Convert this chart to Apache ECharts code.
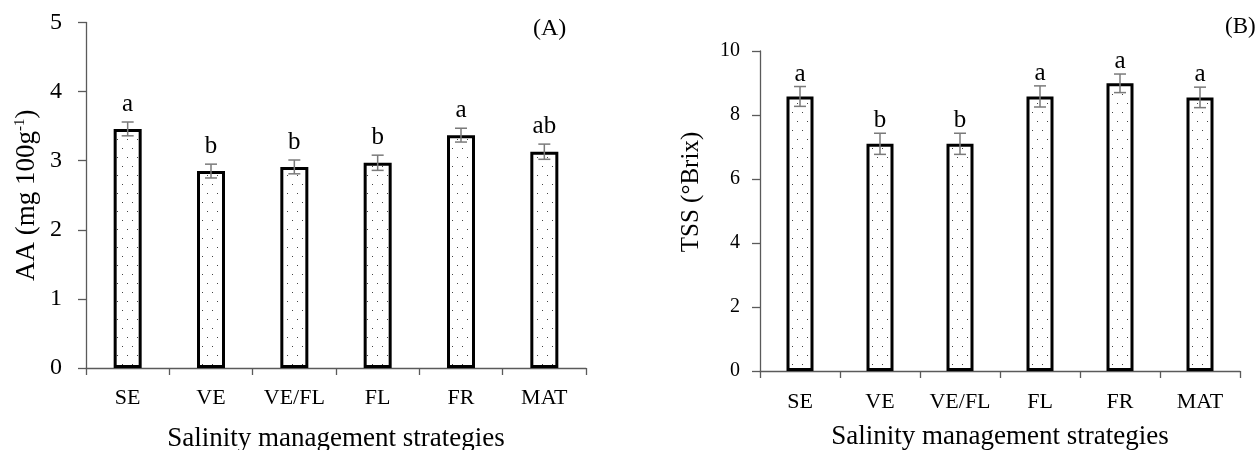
<!DOCTYPE html>
<html lang="en">
<head>
    <meta charset="UTF-8">
    <title>AA and TSS</title>
    <script src="https://cdn.jsdelivr.net/npm/echarts@6/dist/echarts.min.js"></script>
    <style>
        html, body { margin: 0; padding: 0; background: #fff; }
    </style>
</head>
<body>

<div id="main" style="width: 1259px;height:450px;"></div>
<script type="text/javascript">

    // data
    let categories = ['SE', 'VE', 'VE/FL', 'FL', 'FR', 'MAT'];

    let aaValues = [3.46, 2.85, 2.91, 2.97, 3.37, 3.13];
    let aaErrors = [0.10, 0.10, 0.10, 0.11, 0.10, 0.11];
    let aaLetters = ['a', 'b', 'b', 'b', 'a', 'ab'];

    let tssValues = [8.58, 7.10, 7.10, 8.58, 8.99, 8.55];
    let tssErrors = [0.31, 0.33, 0.33, 0.33, 0.29, 0.32];
    let tssLetters = ['a', 'b', 'b', 'a', 'a', 'a'];

    let aaTicks = [0, 1, 2, 3, 4, 5];
    let tssTicks = [0, 2, 4, 6, 8, 10];

    const FONT = '"Liberation Serif", "Times New Roman", serif';
    const AXIS_COLOR = '#5a5a5a';

    // dotted fill like the original
    function dotPattern() {
        let c = document.createElement('canvas');
        c.width = 10;
        c.height = 18;
        let ctx = c.getContext('2d');
        ctx.fillStyle = '#fff';
        ctx.fillRect(0, 0, 10, 18);
        ctx.fillStyle = '#444';
        ctx.fillRect(2, 4, 1, 1);
        ctx.fillRect(7, 13, 1, 1);
        return c;
    }
    let pattern = { image: dotPattern(), repeat: 'repeat' };

    function errRender(errs, letters, vals, lift) {
        return function (params, api) {
            let i = params.dataIndex;
            let x = api.value(0);
            let hi = api.coord([x, vals[i] + errs[i]]);
            let lo = api.coord([x, vals[i] - errs[i]]);
            let half = 6;
            let style = { stroke: '#7a7a7a', lineWidth: 1.5 };
            return {
                type: 'group',
                children: [
                    { type: 'line', shape: { x1: hi[0], y1: hi[1], x2: lo[0], y2: lo[1] }, style: style },
                    { type: 'line', shape: { x1: hi[0] - half, y1: hi[1], x2: hi[0] + half, y2: hi[1] }, style: style },
                    { type: 'line', shape: { x1: lo[0] - half, y1: lo[1], x2: lo[0] + half, y2: lo[1] }, style: style },
                    {
                        type: 'text',
                        style: {
                            text: letters[i], x: hi[0], y: hi[1] - lift,
                            align: 'center', verticalAlign: 'bottom',
                            font: '25px ' + FONT, fill: '#000'
                        }
                    }
                ]
            };
        };
    }

    function yAxisCfg(gridIndex, ticks, name, nameGap, nameSize, fontSize, margin, namePad, rich) {
        return {
            type: 'value',
            gridIndex: gridIndex,
            min: ticks[0],
            max: ticks[ticks.length - 1],
            interval: ticks[1] - ticks[0],
            name: name,
            nameLocation: 'middle',
            nameGap: nameGap,
            nameTextStyle: { fontFamily: FONT, fontSize: nameSize, color: '#000', padding: namePad, rich: rich },
            axisLine: { show: true, lineStyle: { color: AXIS_COLOR, width: 1.3 } },
            axisTick: { show: true, length: 8, lineStyle: { color: AXIS_COLOR, width: 1.3 } },
            axisLabel: { fontFamily: FONT, fontSize: fontSize, color: '#000', margin: margin },
            splitLine: { show: false }
        };
    }

    function xAxisCfg(gridIndex, nameGap, fontSize, margin) {
        return {
            type: 'category',
            gridIndex: gridIndex,
            data: categories,
            name: 'Salinity management strategies',
            nameLocation: 'middle',
            nameGap: nameGap,
            nameTextStyle: { fontFamily: FONT, fontSize: 27, color: '#000' },
            axisLine: { show: true, lineStyle: { color: AXIS_COLOR, width: 1.3 } },
            axisTick: { show: true, length: 7, lineStyle: { color: AXIS_COLOR, width: 1.3 } },
            axisLabel: { fontFamily: FONT, fontSize: fontSize, color: '#000', margin: margin, interval: 0 }
        };
    }

    let barStyle = {
        color: pattern,
        borderColor: '#000',
        borderWidth: 3
    };

    option = {
        backgroundColor: '#fff',
        animation: false,
        grid: [
            { left: 86, right: 673, top: 22.5, bottom: 82, containLabel: false, outerBoundsMode: 'none' },
            { left: 760, right: 19, top: 51, bottom: 79, containLabel: false, outerBoundsMode: 'none' }
        ],
        xAxis: [xAxisCfg(0, 57, 22, 19), xAxisCfg(1, 52, 22, 20)],
        yAxis: [
            yAxisCfg(0, aaTicks, '{t|AA (mg 100g}{s|-1}{t|)}', 46, 27, 24, 24, 0, {
                t: { fontFamily: FONT, fontSize: 27, color: '#000' },
                s: { fontFamily: FONT, fontSize: 15, color: '#000', verticalAlign: 'top', padding: [0, 0, 12, 0] }
            }),
            yAxisCfg(1, tssTicks, 'TSS (°Brix)', 56, 25, 20, 20, [0, 0, 0, 38])
        ],
        title: [
            { text: '(A)', left: 528, top: 12, textStyle: { fontFamily: FONT, fontSize: 24, fontWeight: 'normal', color: '#000' } },
            { text: '(B)', left: 1220, top: 10, textStyle: { fontFamily: FONT, fontSize: 23, fontWeight: 'normal', color: '#000' } }
        ],
        series: [
            {
                type: 'bar', xAxisIndex: 0, yAxisIndex: 0,
                barWidth: 28, itemStyle: barStyle, data: aaValues
            },
            {
                type: 'custom', xAxisIndex: 0, yAxisIndex: 0, z: 5,
                renderItem: errRender(aaErrors, aaLetters, aaValues, 5),
                data: aaValues.map((v, i) => [i, v])
            },
            {
                type: 'bar', xAxisIndex: 1, yAxisIndex: 1,
                barWidth: 27, itemStyle: barStyle, data: tssValues
            },
            {
                type: 'custom', xAxisIndex: 1, yAxisIndex: 1, z: 5,
                renderItem: errRender(tssErrors, tssLetters, tssValues, 0),
                data: tssValues.map((v, i) => [i, v])
            }
        ]
    };

    let myChart = echarts.init(document.getElementById('main'));
    myChart.setOption(option)
</script>
</body>
</html>
